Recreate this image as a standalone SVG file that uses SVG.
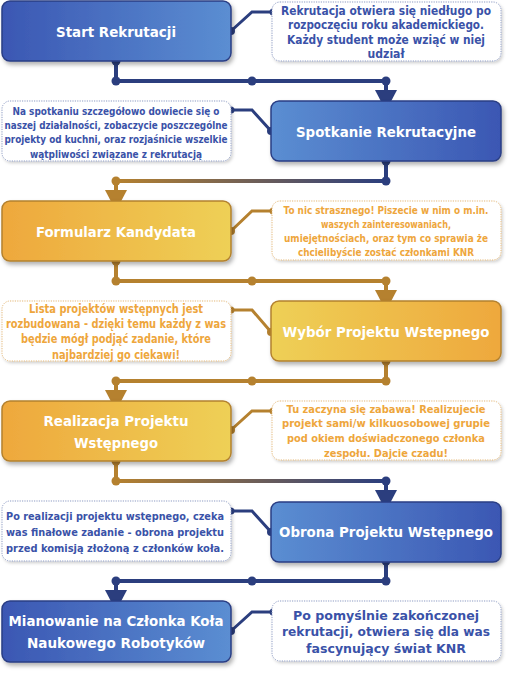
<svg xmlns="http://www.w3.org/2000/svg" width="516" height="679" viewBox="0 0 516 679">
<defs>
<linearGradient id="gBlueR" x1="0" y1="0" x2="1" y2="0"><stop offset="0" stop-color="#3b57b3"/><stop offset="1" stop-color="#5b8ed2"/></linearGradient>
<linearGradient id="gBlueL" x1="0" y1="0" x2="1" y2="0"><stop offset="0" stop-color="#5b8ed2"/><stop offset="1" stop-color="#3b57b3"/></linearGradient>
<linearGradient id="gGoldR" x1="0" y1="0" x2="1" y2="0"><stop offset="0" stop-color="#eea83d"/><stop offset="1" stop-color="#eed056"/></linearGradient>
<linearGradient id="gGoldL" x1="0" y1="0" x2="1" y2="0"><stop offset="0" stop-color="#eed056"/><stop offset="1" stop-color="#eea83d"/></linearGradient>
<linearGradient id="gLine" gradientUnits="userSpaceOnUse" x1="116" y1="0" x2="386" y2="0"><stop offset="0" stop-color="#b5812f"/><stop offset="1" stop-color="#2b3e7e"/></linearGradient>
<filter id="sh" x="-10%" y="-20%" width="125%" height="150%"><feDropShadow dx="2" dy="3" stdDeviation="2" flood-color="#000" flood-opacity="0.3"/></filter>
<filter id="shs" x="-10%" y="-20%" width="125%" height="150%"><feDropShadow dx="1.5" dy="2" stdDeviation="1.5" flood-color="#000" flood-opacity="0.18"/></filter>
</defs>
<style>
.nb{stroke:#2a3e84;stroke-width:1.5;filter:url(#sh)}
.ng{stroke:#b3812f;stroke-width:1.5;filter:url(#sh)}
.cb{fill:#fff;stroke:#8e9cc4;stroke-width:1;stroke-dasharray:1.2 1.2;filter:url(#shs)}
.cg{fill:#fff;stroke:#e4b878;stroke-width:1;stroke-dasharray:1.2 1.2;filter:url(#shs)}
.t{font-family:"DejaVu Sans","Liberation Sans",sans-serif;font-weight:bold;fill:#fff;text-anchor:middle;dominant-baseline:central;font-size:14px}
.tb{font-family:"DejaVu Sans","Liberation Sans",sans-serif;font-weight:bold;fill:#3a52a8;text-anchor:middle;dominant-baseline:central}
.tg{font-family:"DejaVu Sans","Liberation Sans",sans-serif;font-weight:bold;fill:#eea63c;text-anchor:middle;dominant-baseline:central}
.lb{fill:none;stroke:#2b3e7e;stroke-width:4}
.lg{fill:none;stroke:#b5812f;stroke-width:4}
.lx{fill:none;stroke:url(#gLine);stroke-width:4}
.sb{fill:none;stroke:#2b3e7e;stroke-width:3}
.sg{fill:none;stroke:#b5812f;stroke-width:3}
.db{fill:#2b3e7e}
.dg{fill:#b5812f}
</style>

<g id="connectors">
<path class="lb" d="M116 61 V81 H386 V92"/>
<circle class="db" cx="116" cy="61" r="4.5"/><circle class="db" cx="116" cy="81" r="4.5"/><circle class="db" cx="252" cy="81" r="4.5"/><circle class="db" cx="386" cy="81" r="4.5"/>
<polygon class="db" points="375,90 397,90 386,111"/>
<path class="lb" d="M386 161 V181"/>
<path class="lx" d="M386 181 H116"/>
<path class="lg" d="M116 181 V192"/>
<circle class="db" cx="386" cy="161" r="4.5"/><circle class="db" cx="386" cy="181" r="4.5"/><circle class="dg" cx="116" cy="181" r="4.5"/>
<polygon class="dg" points="105,190 127,190 116,211"/>
<path class="lg" d="M116 261 V281 H386 V292"/>
<circle class="dg" cx="116" cy="261" r="4.5"/><circle class="dg" cx="116" cy="281" r="4.5"/><circle class="dg" cx="252" cy="281" r="4.5"/><circle class="dg" cx="386" cy="281" r="4.5"/>
<polygon class="dg" points="375,290 397,290 386,311"/>
<path class="lg" d="M386 361 V381 H116 V392"/>
<circle class="dg" cx="386" cy="361" r="4.5"/><circle class="dg" cx="386" cy="381" r="4.5"/><circle class="dg" cx="252" cy="381" r="4.5"/><circle class="dg" cx="116" cy="381" r="4.5"/>
<polygon class="dg" points="105,390 127,390 116,411"/>
<path class="lg" d="M116 461 V481"/>
<path class="lx" d="M116 481 H386"/>
<path class="lb" d="M386 481 V492"/>
<circle class="dg" cx="116" cy="461" r="4.5"/><circle class="dg" cx="116" cy="481" r="4.5"/><circle class="db" cx="386" cy="481" r="4.5"/>
<polygon class="db" points="375,490 397,490 386,511"/>
<path class="lb" d="M386 561 V581 H116 V592"/>
<circle class="db" cx="386" cy="561" r="4.5"/><circle class="db" cx="386" cy="581" r="4.5"/><circle class="db" cx="252" cy="581" r="4.5"/><circle class="db" cx="116" cy="581" r="4.5"/>
<polygon class="db" points="105,590 127,590 116,611"/>
<path class="sb" d="M231 31 L252 12 H273"/><circle class="db" cx="231" cy="31" r="4"/><circle class="db" cx="273" cy="12" r="3.5"/>
<path class="sb" d="M271 131 L252 110 H231"/><circle class="db" cx="271" cy="131" r="4"/><circle class="db" cx="231" cy="110" r="3.5"/>
<path class="sg" d="M231 231 L252 211 H273"/><circle class="dg" cx="231" cy="231" r="4"/><circle class="dg" cx="273" cy="211" r="3.5"/>
<path class="sg" d="M271 332 L252 310 H231"/><circle class="dg" cx="271" cy="332" r="4"/><circle class="dg" cx="231" cy="310" r="3.5"/>
<path class="sg" d="M231 430 L252 411 H273"/><circle class="dg" cx="231" cy="430" r="4"/><circle class="dg" cx="273" cy="411" r="3.5"/>
<path class="sb" d="M271 532 L252 511 H231"/><circle class="db" cx="271" cy="532" r="4"/><circle class="db" cx="231" cy="511" r="3.5"/>
<path class="sb" d="M231 631 L252 612 H273"/><circle class="db" cx="231" cy="631" r="4"/><circle class="db" cx="273" cy="612" r="3.5"/>
</g>

<g id="n1"><rect class="nb" x="2" y="1" width="229" height="60" rx="8" fill="url(#gBlueR)"/>
<text class="t" x="116" y="32" textLength="120" lengthAdjust="spacingAndGlyphs">Start Rekrutacji</text></g>
<g id="c1"><rect class="cb" x="272" y="2" width="229" height="59" rx="8"/>
<text class="tb" font-size="12"><tspan x="386" y="10.5" textLength="210" lengthAdjust="spacingAndGlyphs">Rekrutacja otwiera się niedługo po</tspan><tspan x="386" y="25" textLength="196" lengthAdjust="spacingAndGlyphs">rozpoczęciu roku akademickiego.</tspan><tspan x="386" y="39.5" textLength="198" lengthAdjust="spacingAndGlyphs">Każdy student może wziąć w niej</tspan><tspan x="386" y="54" textLength="37" lengthAdjust="spacingAndGlyphs">udział</tspan></text></g>

<g id="n2"><rect class="nb" x="271" y="101" width="230" height="60" rx="8" fill="url(#gBlueL)"/>
<text class="t" x="386" y="132" textLength="180" lengthAdjust="spacingAndGlyphs">Spotkanie Rekrutacyjne</text></g>
<g id="c2"><rect class="cb" x="2" y="101" width="229" height="60" rx="8"/>
<text class="tb" font-size="10.5"><tspan x="116" y="111" textLength="207" lengthAdjust="spacingAndGlyphs">Na spotkaniu szczegółowo dowiecie się o</tspan><tspan x="116" y="125" textLength="223" lengthAdjust="spacingAndGlyphs">naszej działalności, zobaczycie poszczególne</tspan><tspan x="116" y="139" textLength="223" lengthAdjust="spacingAndGlyphs">projekty od kuchni, oraz rozjaśnicie wszelkie</tspan><tspan x="116" y="154" textLength="172" lengthAdjust="spacingAndGlyphs">wątpliwości związane z rekrutacją</tspan></text></g>

<g id="n3"><rect class="ng" x="2" y="201" width="229" height="60" rx="8" fill="url(#gGoldR)"/>
<text class="t" x="116" y="232" textLength="160" lengthAdjust="spacingAndGlyphs">Formularz Kandydata</text></g>
<g id="c3"><rect class="cg" x="272" y="201" width="229" height="59" rx="8"/>
<text class="tg" font-size="10"><tspan x="386" y="209.5" textLength="205" lengthAdjust="spacingAndGlyphs">To nic strasznego! Piszecie w nim o m.in.</tspan><tspan x="386" y="223.5" textLength="130" lengthAdjust="spacingAndGlyphs">waszych zainteresowaniach,</tspan><tspan x="386" y="238" textLength="204" lengthAdjust="spacingAndGlyphs">umiejętnościach, oraz tym co sprawia że</tspan><tspan x="386" y="252" textLength="176" lengthAdjust="spacingAndGlyphs">chcielibyście zostać członkami KNR</tspan></text></g>

<g id="n4"><rect class="ng" x="271" y="301" width="230" height="60" rx="8" fill="url(#gGoldL)"/>
<text class="t" x="386" y="332" textLength="207" lengthAdjust="spacingAndGlyphs">Wybór Projektu Wstepnego</text></g>
<g id="c4"><rect class="cg" x="2" y="301" width="229" height="60" rx="8"/>
<text class="tg" font-size="11.5"><tspan x="116" y="309" textLength="174" lengthAdjust="spacingAndGlyphs">Lista projektów wstępnych jest</tspan><tspan x="116" y="324" textLength="220" lengthAdjust="spacingAndGlyphs">rozbudowana - dzięki temu każdy z was</tspan><tspan x="116" y="339" textLength="190" lengthAdjust="spacingAndGlyphs">będzie mógł podjąć zadanie, które</tspan><tspan x="116" y="354.5" textLength="128" lengthAdjust="spacingAndGlyphs">najbardziej go ciekawi!</tspan></text></g>

<g id="n5"><rect class="ng" x="2" y="401" width="229" height="60" rx="8" fill="url(#gGoldR)"/>
<text class="t"><tspan x="116" y="421" textLength="145" lengthAdjust="spacingAndGlyphs">Realizacja Projektu</tspan><tspan x="116" y="443" textLength="84" lengthAdjust="spacingAndGlyphs">Wstępnego</tspan></text></g>
<g id="c5"><rect class="cg" x="272" y="401" width="229" height="59" rx="8"/>
<text class="tg" font-size="11"><tspan x="386" y="408.5" textLength="199" lengthAdjust="spacingAndGlyphs">Tu zaczyna się zabawa! Realizujecie</tspan><tspan x="386" y="423" textLength="208" lengthAdjust="spacingAndGlyphs">projekt sami/w kilkuosobowej grupie</tspan><tspan x="386" y="438" textLength="198" lengthAdjust="spacingAndGlyphs">pod okiem doświadczonego członka</tspan><tspan x="386" y="453" textLength="124" lengthAdjust="spacingAndGlyphs">zespołu. Dajcie czadu!</tspan></text></g>

<g id="n6"><rect class="nb" x="271" y="502" width="230" height="60" rx="8" fill="url(#gBlueL)"/>
<text class="t" x="386" y="532" textLength="214" lengthAdjust="spacingAndGlyphs">Obrona Projektu Wstępnego</text></g>
<g id="c6"><rect class="cb" x="2" y="501" width="229" height="60" rx="8"/>
<text class="tb" font-size="11"><tspan x="115" y="516" textLength="218" lengthAdjust="spacingAndGlyphs">Po realizacji projektu wstępnego, czeka</tspan><tspan x="115" y="532" textLength="218" lengthAdjust="spacingAndGlyphs">was finałowe zadanie - obrona projektu</tspan><tspan x="115" y="548" textLength="218" lengthAdjust="spacingAndGlyphs">przed komisją złożoną z członków koła.</tspan></text></g>

<g id="n7"><rect class="nb" x="2" y="601" width="229" height="61" rx="8" fill="url(#gBlueR)"/>
<text class="t"><tspan x="116" y="621" textLength="215" lengthAdjust="spacingAndGlyphs">Mianowanie na Członka Koła</tspan><tspan x="116" y="643" textLength="178" lengthAdjust="spacingAndGlyphs">Naukowego Robotyków</tspan></text></g>
<g id="c7"><rect class="cb" x="272" y="601" width="229" height="60" rx="8"/>
<text class="tb" font-size="13"><tspan x="386" y="614.5" textLength="186" lengthAdjust="spacingAndGlyphs">Po pomyślnie zakończonej</tspan><tspan x="386" y="631" textLength="208" lengthAdjust="spacingAndGlyphs">rekrutacji, otwiera się dla was</tspan><tspan x="386" y="647.5" textLength="160" lengthAdjust="spacingAndGlyphs">fascynujący świat KNR</tspan></text></g>
</svg>
